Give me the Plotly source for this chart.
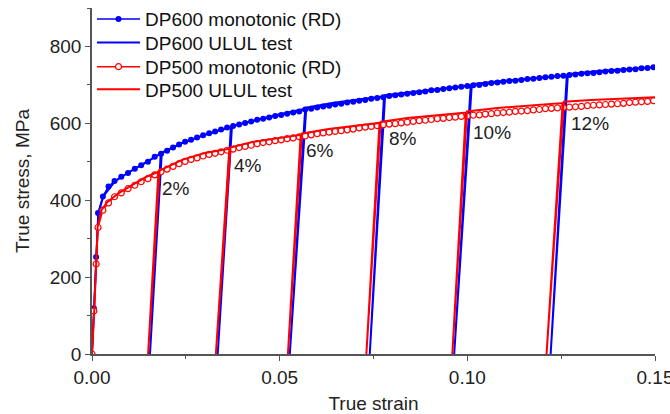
import plotly.graph_objects as go

# ---- monotonic curves (shared strain grid) ----
strain_mono = [0, 0.0005, 0.0011, 0.0016, 0.0029, 0.0044, 0.0060, 0.0078, 0.0096, 0.0114, 0.0131, 0.0149, 0.0167,
               0.0184, 0.0200, 0.0216, 0.0232, 0.0248, 0.0264, 0.0280, 0.0296, 0.0312, 0.0328,
               0.0344, 0.0360, 0.0376, 0.0392, 0.0408, 0.0424, 0.0440, 0.0456, 0.0472, 0.0488,
               0.0504, 0.0520, 0.0536, 0.0552, 0.0568, 0.0584, 0.0600, 0.0616, 0.0632, 0.0648,
               0.0664, 0.0680, 0.0696, 0.0712, 0.0728, 0.0744, 0.0760, 0.0776, 0.0792, 0.0808,
               0.0824, 0.0840, 0.0856, 0.0872, 0.0888, 0.0904, 0.0920, 0.0936, 0.0952, 0.0968,
               0.0984, 0.1000, 0.1016, 0.1032, 0.1048, 0.1064, 0.1080, 0.1096, 0.1112, 0.1128,
               0.1144, 0.1160, 0.1176, 0.1192, 0.1208, 0.1224, 0.1240, 0.1256, 0.1272, 0.1288,
               0.1304, 0.1320, 0.1336, 0.1352, 0.1368, 0.1384, 0.1400, 0.1416, 0.1432, 0.1448,
               0.1464, 0.1480, 0.1496]

dp600_mono = [0, 119, 252, 367, 410, 436, 450, 461, 471, 482, 491, 500, 513,
              521, 529, 537, 545, 552, 557, 563, 569, 574, 579,
              584, 589, 593, 597, 601, 605, 609, 612, 615, 619,
              622, 625, 628, 631, 636, 638, 641, 644, 646, 649,
              651, 654, 656, 659, 661, 664, 666, 668, 671, 673,
              675, 677, 679, 681, 683, 686, 687, 689, 691, 693,
              695, 697, 699, 700, 702, 705, 706, 708, 710, 711,
              713, 715, 716, 718, 720, 721, 723, 724, 726, 727,
              729, 730, 731, 733, 735, 736, 737, 739, 740, 741,
              743, 744, 746]

dp500_mono = [0, 112, 234, 329, 374, 393, 409, 419, 430, 439, 448, 456, 466,
              474, 481, 488, 495, 501, 506, 510, 515, 519, 522,
              526, 530, 533, 537, 540, 543, 547, 550, 552, 555,
              557, 560, 562, 565, 567, 570, 573, 575, 577, 579,
              581, 583, 585, 588, 590, 592, 594, 596, 598, 599,
              601, 603, 605, 607, 608, 610, 612, 613, 615, 616,
              618, 619, 621, 622, 624, 625, 627, 628, 629, 631,
              632, 633, 635, 636, 638, 639, 640, 641, 642, 643,
              644, 646, 647, 648, 649, 650, 651, 652, 654, 655,
              656, 657, 659]

# ---- unloading / reloading (ULUL) tests ----
dp600_ulul_strain = [0, 0.0006, 0.0017, 0.003, 0.006, 0.010, 0.014, 0.0183, 0.01545, 0.0186,
                     0.024, 0.030, 0.0370, 0.0335, 0.0373, 0.044, 0.050, 0.0568, 0.0527, 0.0571,
                     0.064, 0.071, 0.0778, 0.0740, 0.0781, 0.086, 0.093, 0.1009, 0.0965, 0.1012,
                     0.110, 0.118, 0.1265, 0.1222, 0.1268, 0.135, 0.142, 0.150]
dp600_ulul_stress = [0, 120, 365, 410, 448, 474, 497, 521, 0, 524,
                     549, 570, 590, 0, 593, 610, 624, 638, 0, 641,
                     653, 662, 670, 0, 673, 682, 690, 699, 0, 702,
                     711, 718, 725, 0, 728, 736, 741, 746]

dp500_ulul_strain = [0, 0.0006, 0.0015, 0.0025, 0.004, 0.007, 0.011, 0.0145, 0.0177, 0.01495, 0.0180,
                     0.024, 0.030, 0.0366, 0.0330, 0.0369, 0.043, 0.049, 0.0556, 0.0522, 0.0559,
                     0.063, 0.070, 0.0766, 0.0731, 0.0769, 0.084, 0.092, 0.0996, 0.0960, 0.0999,
                     0.108, 0.117, 0.1254, 0.1211, 0.1257, 0.133, 0.141, 0.150]
dp500_ulul_stress = [0, 112, 330, 374, 394, 418, 441, 461, 474, 0, 477,
                     505, 523, 534, 0, 537, 552, 561, 570, 0, 573,
                     585, 593, 601, 0, 604, 614, 621, 628, 0, 631,
                     640, 647, 653, 0, 656, 661, 665, 668]

# ---- labels ----
label_text = ["2%", "4%", "6%", "8%", "10%", "12%"]
label_x = [0.0225, 0.0416, 0.0607, 0.0829, 0.1067, 0.1326]
label_y = [430, 491, 530, 560, 576, 600]

BLUE = "rgb(0,0,255)"
RED = "rgb(255,0,0)"
FONT = "Liberation Sans, Arial, sans-serif"

fig = go.Figure()
fig.add_trace(go.Scatter(x=strain_mono, y=dp600_mono, mode="lines+markers",
                         name="DP600 monotonic (RD)", legend="legend",
                         line=dict(color=BLUE, width=1.5),
                         marker=dict(symbol="circle", size=6, color=BLUE)))
fig.add_trace(go.Scatter(x=dp600_ulul_strain, y=dp600_ulul_stress, mode="lines",
                         name="DP600 ULUL test", legend="legend2",
                         line=dict(color=BLUE, width=2)))
fig.add_trace(go.Scatter(x=strain_mono, y=dp500_mono, mode="lines+markers",
                         name="DP500 monotonic (RD)", legend="legend3",
                         line=dict(color=RED, width=1.5),
                         marker=dict(symbol="circle", size=6, color="white",
                                     line=dict(color=RED, width=1.2))))
fig.add_trace(go.Scatter(x=dp500_ulul_strain, y=dp500_ulul_stress, mode="lines",
                         name="DP500 ULUL test", legend="legend4",
                         line=dict(color=RED, width=2)))

for t, x, y in zip(label_text, label_x, label_y):
    fig.add_annotation(x=x, y=y, text=t, showarrow=False,
                       font=dict(size=19, color="#222", family=FONT))

def leg(ypos):
    return dict(x=0.0, y=ypos, xanchor="left", yanchor="middle",
                bgcolor="rgba(0,0,0,0)", borderwidth=0, itemwidth=43,
                font=dict(size=19, color="#111", family=FONT))

fig.update_layout(
    width=670, height=414,
    margin=dict(l=92, r=15, t=8, b=60, autoexpand=False),
    paper_bgcolor="white", plot_bgcolor="white",
    font=dict(family=FONT, size=19, color="#222"),
    showlegend=True,
    legend=leg(0.968), legend2=leg(0.900), legend3=leg(0.830), legend4=leg(0.765),
)
fig.update_xaxes(range=[0, 0.15], tick0=0, dtick=0.05, tickformat=".2f",
                 showline=True, linecolor="#555", linewidth=1.5,
                 ticks="outside", ticklen=5, tickcolor="#555",
                 minor=dict(dtick=0.025, ticks="outside", ticklen=3, tickcolor="#555"),
                 showgrid=False, zeroline=False, ticklabeloverflow="allow", automargin=False,
                 title=dict(text="True strain", font=dict(size=19), standoff=12))
fig.update_yaxes(range=[0, 900], tick0=0, dtick=200,
                 showline=True, linecolor="#555", linewidth=1.5,
                 ticks="outside", ticklen=5, tickcolor="#555",
                 minor=dict(dtick=100, ticks="outside", ticklen=3, tickcolor="#555"),
                 showgrid=False, zeroline=False, automargin=False,
                 title=dict(text="True stress, MPa", font=dict(size=19)))

fig.write_html("out.html")
